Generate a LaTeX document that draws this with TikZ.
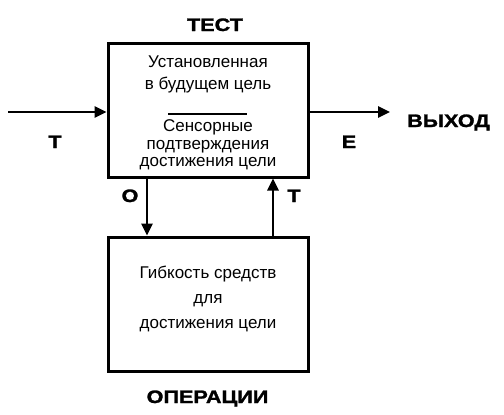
\documentclass[tikz,border=0pt]{standalone}
\usepackage{fontspec}
\setmainfont{Liberation Sans}
\newfontfamily\lblfont{Liberation Sans}[FakeStretch=1.2, BoldFeatures={FakeBold=1.5}]
\usetikzlibrary{arrows.meta, positioning}

\begin{document}
\begin{tikzpicture}[
  x=1pt, y=1pt,
  box/.style={draw, line width=3pt, minimum width=200pt, minimum height=134pt},
  txt/.style={font=\fontsize{17}{25}\selectfont, align=center, inner sep=0pt},
  lbl/.style={font=\fontsize{18}{20}\lblfont\bfseries, inner sep=0pt, anchor=base},
  arrow/.style={-{Triangle[length=12pt, width=11pt]}, line width=2.6pt},
]
  \useasboundingbox (0,0) rectangle (504,-415);
  \node[box] (test) at (208,-110) {};
  \node[box] (ops) at (208,-304) {};
  % text in the boxes
  \node[txt, font=\fontsize{17}{22}\selectfont] (goal) at (208,-74.6) {Установленная\\в будущем цель};
  \node[txt, font=\fontsize{17}{17.5}\selectfont] (sense) at (208,-145) {Сенсорные\\подтверждения\\достижения цели};
  \coordinate (ruleL) at (168,-114);
  \coordinate (ruleR) at (247,-114);
  \draw[line width=1.2pt] (ruleL) -- (ruleR);
  \node[txt] (means) at (208,-298.5) {Гибкость средств\\для\\достижения цели};
  % labels
  \node[lbl] (testlbl) at (215,-31) {ТЕСТ};
  \node[lbl] (opslbl) at (207.5,-403) {ОПЕРАЦИИ};
  \node[lbl] (outlbl) at (448.5,-127) {ВЫХОД};
  \node[lbl] (tin) at (55,-148) {Т};
  \node[lbl] (eout) at (349,-148) {Е};
  \node[lbl] (olbl) at (130,-202) {О};
  \node[lbl] (tback) at (294,-202) {Т};
  % connectors
  \coordinate (start) at (8,-112);
  \coordinate (finish) at (390,-112);
  \coordinate (xdown) at (147,0);
  \coordinate (xup) at (273,0);
  \draw[arrow] (start) -- (test.west |- start);
  \draw[arrow] (test.east |- finish) -- (finish);
  \draw[arrow] (test.south -| xdown) -- (ops.north -| xdown);
  \draw[arrow] (ops.north -| xup) -- (test.south -| xup);
\end{tikzpicture}
\end{document}
